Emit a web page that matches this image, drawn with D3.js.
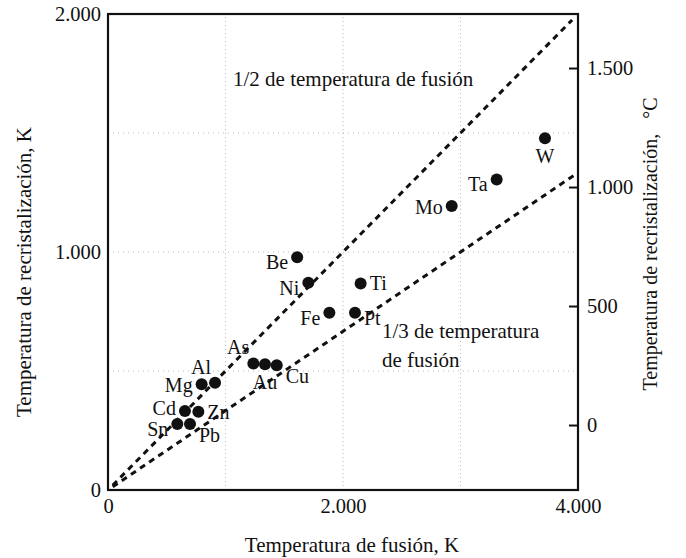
<!DOCTYPE html>
<html>
<head>
<meta charset="utf-8">
<script src="https://cdn.jsdelivr.net/npm/d3@7"></script>
<style>
  body { margin: 0; background: #fff; }
  text { font-family: "Liberation Serif", "DejaVu Serif", serif; fill: #111; }
</style>
</head>
<body>
<svg id="chart" width="686" height="558"></svg>
<script>
// metals: melting point (K) vs recrystallization temperature (K)
const metals = ["Sn", "Pb", "Cd", "Zn", "Mg", "Al", "As", "Au", "Cu", "Be", "Ni", "Ti", "Fe", "Pt", "Mo", "Ta", "W"];
const meltK = [590, 698, 655, 769, 797, 911, 1237, 1336, 1436, 1610, 1705, 2150, 1884, 2102, 2925, 3308, 3719];
const recrystK = [277, 277, 332, 329, 444, 451, 532, 528, 524, 978, 871, 868, 745, 745, 1193, 1305, 1478];
// which side of the dot each label sits on
const labelSide = ["leftlow", "belowright", "lefthigh", "right", "left", "aboveleft", "aboveleft", "below", "belowright",
    "leftlow", "leftlow", "right", "leftlow", "rightlow", "left", "leftlow", "below"];

const xTicks = [0, 2000, 4000];
const yTicksK = [0, 1000, 2000];
const yTicksC = [0, 500, 1000, 1500];
const gridX = [1000, 2000, 3000];
const gridY = [500, 1000, 1500];
const ratios = [1 / 2, 1 / 3];

const svg = d3.select("#chart");
const x = d3.scaleLinear().domain([0, 4000]).range([108, 578]);
const y = d3.scaleLinear().domain([0, 2000]).range([490, 14]);
const yC = d3.scaleLinear().domain([-273, 2000 - 273]).range([490, 14]);

const fmt = d => d3.format(",")(d).replace(/,/g, ".");

// grid
svg.append("g").selectAll("line").data(gridX).join("line")
    .attr("x1", d => x(d)).attr("x2", d => x(d))
    .attr("y1", y(0)).attr("y2", y(2000))
    .attr("stroke", "#aaa").attr("stroke-width", 0.8).attr("stroke-dasharray", "1,3");
svg.append("g").selectAll("line").data(gridY).join("line")
    .attr("y1", d => y(d)).attr("y2", d => y(d))
    .attr("x1", x(0)).attr("x2", x(4000))
    .attr("stroke", "#aaa").attr("stroke-width", 0.8).attr("stroke-dasharray", "1,4");

// ratio lines
const lineEnd = [3950, 4000];
svg.append("g").selectAll("line").data(ratios).join("line")
    .attr("x1", x(40)).attr("y1", (d) => y(40 * d))
    .attr("x2", (d, i) => x(lineEnd[i])).attr("y2", (d, i) => y(lineEnd[i] * d))
    .attr("stroke", "#111").attr("stroke-width", 3).attr("stroke-dasharray", "6,5");

// axes
const axisStyle = g => {
    g.select(".domain").remove();
    g.selectAll("text").style("font-family", "Liberation Serif").style("font-size", "20.5px").attr("fill", "#111");
    g.selectAll("line").attr("stroke", "#111").attr("stroke-width", 2);
};

svg.append("g").attr("transform", "translate(0,490)")
    .call(d3.axisBottom(x).tickValues(xTicks).tickSize(0).tickPadding(8).tickFormat(fmt))
    .call(axisStyle)
    .selectAll("text").attr("dy", "0.71em");

svg.append("g").attr("transform", "translate(108,0)")
    .call(d3.axisLeft(y).tickValues(yTicksK).tickSize(0).tickPadding(7).tickFormat(fmt))
    .call(axisStyle);

svg.append("g").attr("transform", "translate(578,0)")
    .call(d3.axisLeft(yC).tickValues(yTicksC).tickSize(9).tickFormat(""))
    .call(axisStyle);
svg.append("g").attr("transform", "translate(578,0)")
    .call(d3.axisRight(yC).tickValues(yTicksC).tickSize(0).tickPadding(9).tickFormat(fmt))
    .call(axisStyle);

// frame
svg.append("rect")
    .attr("x", x(0)).attr("y", y(2000))
    .attr("width", x(4000) - x(0)).attr("height", y(0) - y(2000))
    .attr("fill", "none").attr("stroke", "#111").attr("stroke-width", 2.2);

// points
svg.append("g").selectAll("circle").data(metals).join("circle")
    .attr("cx", (d, i) => x(meltK[i]))
    .attr("cy", (d, i) => y(recrystK[i]))
    .attr("r", 6)
    .attr("fill", "#111");

const off = {
    left: [-9, 8, "end"],
    leftlow: [-9, 12, "end"],
    lefthigh: [-9, 4, "end"],
    right: [9, 7, "start"],
    rightlow: [9, 12, "start"],
    below: [0, 25, "middle"],
    belowright: [9, 18, "start"],
    aboveleft: [-4, -9, "end"]
};
svg.append("g").selectAll("text").data(metals).join("text")
    .attr("x", (d, i) => x(meltK[i]) + off[labelSide[i]][0])
    .attr("y", (d, i) => y(recrystK[i]) + off[labelSide[i]][1])
    .attr("text-anchor", (d, i) => off[labelSide[i]][2])
    .style("font-size", "20px")
    .text(d => d);

// annotations
svg.append("text").attr("x", 233).attr("y", 86).style("font-size", "21px")
    .text("1/2 de temperatura de fusión");
svg.append("text").attr("x", 382).attr("y", 338).style("font-size", "21px")
    .text("1/3 de temperatura");
svg.append("text").attr("x", 382).attr("y", 367).style("font-size", "21px")
    .text("de fusión");

// axis titles
svg.append("text").attr("x", 352).attr("y", 552).attr("text-anchor", "middle")
    .style("font-size", "21px").text("Temperatura de fusión, K");
svg.append("text").attr("transform", "translate(31,272) rotate(-90)").attr("text-anchor", "middle")
    .style("font-size", "21px").text("Temperatura de recristalización, K");
svg.append("text").attr("transform", "translate(657,244) rotate(-90)").attr("text-anchor", "middle")
    .style("font-size", "20px").style("white-space", "pre")
    .text("Temperatura de recristalización,   °C");
</script>
</body>
</html>
